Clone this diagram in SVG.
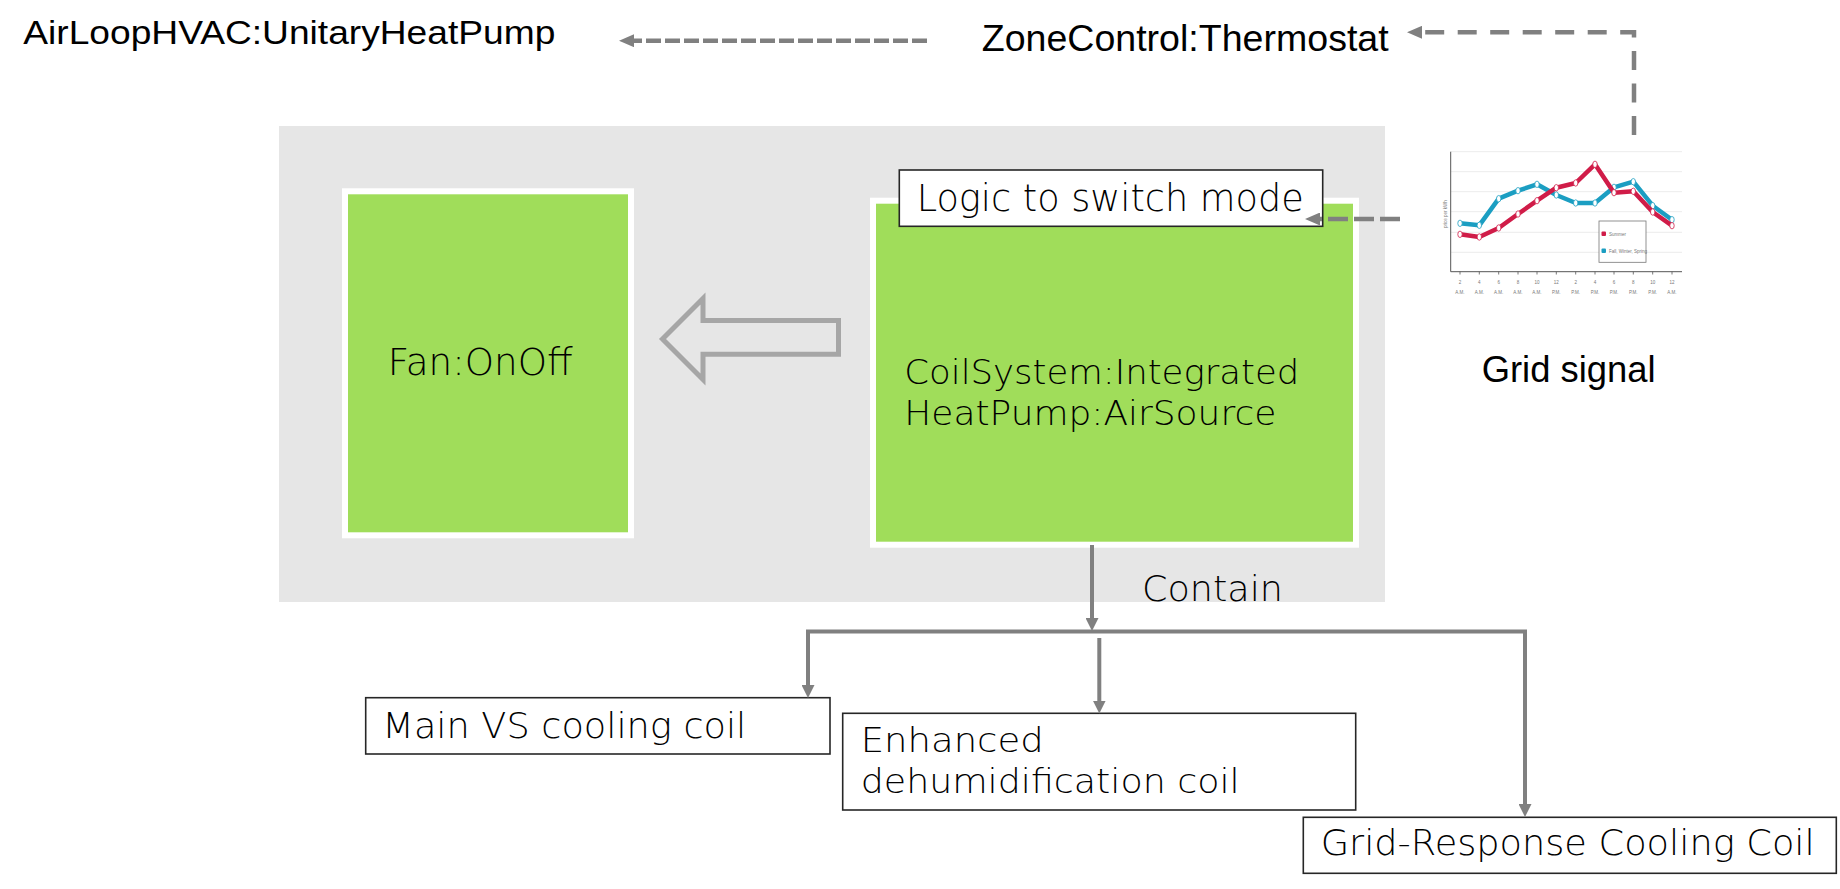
<svg xmlns="http://www.w3.org/2000/svg" width="1840" height="889" viewBox="0 0 1840 889">
<defs>
<style>
.arial{font-family:"Liberation Sans",Arial,sans-serif;fill:#000}
.goth{font-family:"DejaVu Sans","Open Sans",sans-serif;font-weight:200;fill:#000}
.box{fill:#fff;stroke:#262626;stroke-width:1.6}
.green{fill:#a0dd5a;stroke:#fff;stroke-width:6}
.conn{fill:none;stroke:#808080;stroke-width:4}
.dash{fill:none;stroke:#808080;stroke-width:4.5}
.grid{stroke:#ececec;stroke-width:1}
.tiny{font-family:"Liberation Sans",Arial,sans-serif;fill:#777;font-size:4.5px}
</style>
<marker id="ah" viewBox="0 0 13 13" markerUnits="userSpaceOnUse" markerWidth="13" markerHeight="13" refX="4" refY="6.5" orient="auto">
<path d="M0,0 L13,6.5 L0,13 Z" fill="#808080"/>
</marker>
<marker id="ahd" viewBox="0 0 15 13" markerUnits="userSpaceOnUse" markerWidth="15" markerHeight="13" refX="4" refY="6.5" orient="auto">
<path d="M0,0 L15,6.5 L0,13 Z" fill="#808080"/>
</marker>
</defs>
<rect width="1840" height="889" fill="#fff"/>

<g id="unitary-panel">
<rect x="279" y="126" width="1106" height="476" fill="#e6e6e6"/>
</g>

<g id="airloop-label">
<text class="arial" x="23.3" y="44.3" font-size="33" textLength="532" lengthAdjust="spacingAndGlyphs">AirLoopHVAC:UnitaryHeatPump</text>
</g>

<g id="zone-thermostat">
<text class="arial" x="981.7" y="51" font-size="37.5" textLength="407" lengthAdjust="spacingAndGlyphs">ZoneControl:Thermostat</text>
</g>

<g id="fan-onoff">
<rect class="green" x="345" y="191.3" width="286" height="344"/>
<text class="goth" x="387.7" y="375" font-size="37" textLength="185" lengthAdjust="spacingAndGlyphs">Fan:OnOff</text>
</g>

<g id="coil-system">
<rect class="green" x="873" y="200.7" width="483" height="344"/>
<text class="goth" font-size="34.5"><tspan x="904.3" y="384" textLength="395" lengthAdjust="spacingAndGlyphs">CoilSystem:Integrated</tspan><tspan x="904.3" y="425" textLength="372" lengthAdjust="spacingAndGlyphs">HeatPump:AirSource</tspan></text>
</g>

<g id="logic-switch">
<rect class="box" x="899.3" y="170" width="423.4" height="56.3"/>
<text class="goth" x="916.7" y="210.7" font-size="36.5" textLength="387" lengthAdjust="spacingAndGlyphs">Logic to switch mode</text>
</g>

<g id="flow-arrow">
<polygon points="662.5,339 703,298.5 703,320.5 838.5,320.5 838.5,354.2 703,354.2 703,379.5" fill="#e6e6e6" stroke="#a6a6a6" stroke-width="5"/>
</g>

<g id="grid-signal">
<rect x="1437" y="135" width="245" height="167" fill="#fff"/>
<line class="grid" x1="1451" y1="151.7" x2="1682" y2="151.7"/>
<line class="grid" x1="1451" y1="171.7" x2="1682" y2="171.7"/>
<line class="grid" x1="1451" y1="191.7" x2="1682" y2="191.7"/>
<line class="grid" x1="1451" y1="211.7" x2="1682" y2="211.7"/>
<line class="grid" x1="1451" y1="232.3" x2="1682" y2="232.3"/>
<line class="grid" x1="1451" y1="252.3" x2="1682" y2="252.3"/>
<path d="M1450.7,151.7 V271.7 H1682" fill="none" stroke="#555" stroke-width="1"/>
<g stroke="#555" stroke-width="0.8">
<line x1="1460" y1="271.7" x2="1460" y2="274.5"/><line x1="1479.3" y1="271.7" x2="1479.3" y2="274.5"/><line x1="1498.7" y1="271.7" x2="1498.7" y2="274.5"/><line x1="1518" y1="271.7" x2="1518" y2="274.5"/><line x1="1537" y1="271.7" x2="1537" y2="274.5"/><line x1="1556.3" y1="271.7" x2="1556.3" y2="274.5"/><line x1="1575.7" y1="271.7" x2="1575.7" y2="274.5"/><line x1="1595" y1="271.7" x2="1595" y2="274.5"/><line x1="1614" y1="271.7" x2="1614" y2="274.5"/><line x1="1633.3" y1="271.7" x2="1633.3" y2="274.5"/><line x1="1652.7" y1="271.7" x2="1652.7" y2="274.5"/><line x1="1672" y1="271.7" x2="1672" y2="274.5"/>
</g>
<polyline points="1460,223.3 1479.3,225.3 1498.7,198.7 1518,190.7 1537,184.3 1556.3,195 1575.7,203 1595,203 1614,187.3 1633.3,181.7 1652.7,205.7 1672,219.7" fill="none" stroke="#1b9ec2" stroke-width="4.5" stroke-linejoin="round"/>
<g fill="#fff" stroke="#1b9ec2" stroke-width="0.8">
<ellipse cx="1460" cy="223.3" rx="2.2" ry="3.2"/><ellipse cx="1479.3" cy="225.3" rx="2.2" ry="3.2"/><ellipse cx="1498.7" cy="198.7" rx="2.2" ry="3.2"/><ellipse cx="1518" cy="190.7" rx="2.2" ry="3.2"/><ellipse cx="1537" cy="184.3" rx="2.2" ry="3.2"/><ellipse cx="1556.3" cy="195" rx="2.2" ry="3.2"/><ellipse cx="1575.7" cy="203" rx="2.2" ry="3.2"/><ellipse cx="1595" cy="203" rx="2.2" ry="3.2"/><ellipse cx="1614" cy="187.3" rx="2.2" ry="3.2"/><ellipse cx="1633.3" cy="181.7" rx="2.2" ry="3.2"/><ellipse cx="1652.7" cy="205.7" rx="2.2" ry="3.2"/><ellipse cx="1672" cy="219.7" rx="2.2" ry="3.2"/>
</g>
<polyline points="1460,234.3 1479.3,237 1498.7,228 1518,214 1537,200.7 1556.3,187.7 1575.7,183 1595,164.3 1614,192.7 1633.3,191.3 1652.7,212 1672,225.7" fill="none" stroke="#d01c48" stroke-width="4.5" stroke-linejoin="round"/>
<g fill="#fff" stroke="#d01c48" stroke-width="0.8">
<ellipse cx="1460" cy="234.3" rx="2.2" ry="3.2"/><ellipse cx="1479.3" cy="237" rx="2.2" ry="3.2"/><ellipse cx="1498.7" cy="228" rx="2.2" ry="3.2"/><ellipse cx="1518" cy="214" rx="2.2" ry="3.2"/><ellipse cx="1537" cy="200.7" rx="2.2" ry="3.2"/><ellipse cx="1556.3" cy="187.7" rx="2.2" ry="3.2"/><ellipse cx="1575.7" cy="183" rx="2.2" ry="3.2"/><ellipse cx="1595" cy="164.3" rx="2.2" ry="3.2"/><ellipse cx="1614" cy="192.7" rx="2.2" ry="3.2"/><ellipse cx="1633.3" cy="191.3" rx="2.2" ry="3.2"/><ellipse cx="1652.7" cy="212" rx="2.2" ry="3.2"/><ellipse cx="1672" cy="225.7" rx="2.2" ry="3.2"/>
</g>
<rect x="1599" y="221" width="47" height="41.3" fill="#fff" stroke="#777" stroke-width="0.8"/>
<rect x="1601.5" y="231.5" width="4.5" height="4.5" rx="1" fill="#d01c48"/>
<rect x="1601.5" y="248.5" width="4.5" height="4.5" rx="1" fill="#1b9ec2"/>
<text class="tiny" x="1609" y="235.5">Summer</text>
<text class="tiny" x="1609" y="252.5" font-size="4">Fall, Winter, Spring</text>
<text class="tiny" transform="translate(1447,228) rotate(-90)">price per kWh</text>
<g class="tiny" text-anchor="middle">
<text x="1460" y="284">2</text><text x="1479.3" y="284">4</text><text x="1498.7" y="284">6</text><text x="1518" y="284">8</text><text x="1537" y="284">10</text><text x="1556.3" y="284">12</text><text x="1575.7" y="284">2</text><text x="1595" y="284">4</text><text x="1614" y="284">6</text><text x="1633.3" y="284">8</text><text x="1652.7" y="284">10</text><text x="1672" y="284">12</text>
<text x="1460" y="294">A.M.</text><text x="1479.3" y="294">A.M.</text><text x="1498.7" y="294">A.M.</text><text x="1518" y="294">A.M.</text><text x="1537" y="294">A.M.</text><text x="1556.3" y="294">P.M.</text><text x="1575.7" y="294">P.M.</text><text x="1595" y="294">P.M.</text><text x="1614" y="294">P.M.</text><text x="1633.3" y="294">P.M.</text><text x="1652.7" y="294">P.M.</text><text x="1672" y="294">A.M.</text>
</g>
<text class="arial" x="1481.7" y="382.3" font-size="36" textLength="174" lengthAdjust="spacingAndGlyphs">Grid signal</text>
</g>

<g id="contain-label">
<text class="goth" x="1142" y="601" font-size="35" textLength="141" lengthAdjust="spacingAndGlyphs">Contain</text>
</g>

<g id="main-vs-coil">
<rect class="box" x="365.7" y="697.7" width="464.3" height="56.3"/>
<text class="goth" x="382.3" y="737.7" font-size="36" textLength="364" lengthAdjust="spacingAndGlyphs">Main VS cooling coil</text>
</g>

<g id="enhanced-dehum-coil">
<rect class="box" x="842.7" y="713.3" width="513" height="96.7"/>
<text class="goth" font-size="34.5"><tspan x="860.7" y="752.3" textLength="183" lengthAdjust="spacingAndGlyphs">Enhanced</tspan><tspan x="860.7" y="792.7" textLength="379" lengthAdjust="spacingAndGlyphs">dehumidification coil</tspan></text>
</g>

<g id="grid-response-coil">
<rect class="box" x="1303.3" y="817.3" width="533" height="56"/>
<text class="goth" x="1320.7" y="855" font-size="36" textLength="494" lengthAdjust="spacingAndGlyphs">Grid-Response Cooling Coil</text>
</g>

<g id="connectors">
<path class="dash" d="M927,40.7 H630" stroke-dasharray="15,4" marker-end="url(#ahd)"/>
<path class="dash" d="M1634,135 V32.3 H1418" stroke-dasharray="19,13.5" marker-end="url(#ahd)"/>
<path class="dash" d="M1400,219 H1316" stroke-dasharray="20,6" marker-end="url(#ahd)"/>
<path class="conn" d="M1092,545 V622" marker-end="url(#ah)"/>
<path class="conn" d="M806,631.5 H1527"/>
<path class="conn" d="M808,631.5 V689" marker-end="url(#ah)"/>
<path class="conn" d="M1099.3,638 V704.5" marker-end="url(#ah)"/>
<path class="conn" d="M1525,631.5 V808" marker-end="url(#ah)"/>
</g>
</svg>
